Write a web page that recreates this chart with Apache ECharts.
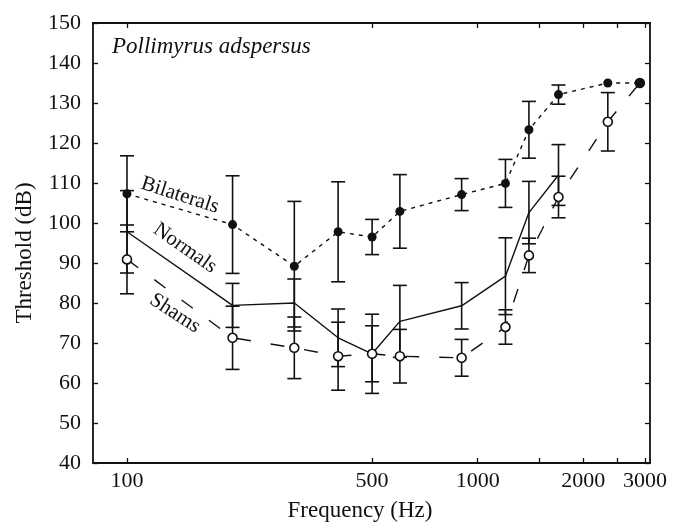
<!DOCTYPE html>
<html><head><meta charset="utf-8">
<script src="https://cdn.jsdelivr.net/npm/echarts@6/dist/echarts.min.js"></script>
<style>html,body{margin:0;padding:0;background:#fff}#c{width:688px;height:523px}</style>
</head><body><div id="c"></div>
<script>
// ---- data ----
const freqs = [100, 200, 300, 400, 500, 600, 900, 1200, 1400, 1700, 2350, 2900];
const normalFreqs = [100, 200, 300, 400, 500, 600, 900, 1200, 1400, 1700];

const bilaterals    = [107.3, 99.6, 89.2, 97.8, 96.5, 102.9, 107.1, 109.9, 123.3, 132.1, 135, 135];
const bilateralsErr = [9.5, 12.2, 16.2, 12.5, 4.4, 9.2, 4.0, 6.0, 7.1, 2.4, 0, 0];

const normals    = [97.8, 79.4, 80.0, 71.3, 67.3, 75.4, 79.3, 86.7, 102.6, 112.0];
const normalsErr = [10.3, 5.5, 6.0, 7.2, 9.9, 9.0, 5.8, 9.6, 7.8, 7.6];

const shams    = [90.9, 71.3, 68.8, 66.7, 67.3, 66.7, 66.3, 74.0, 91.9, 106.5, 125.3, 135];
const shamsErr = [8.6, 7.9, 7.7, 8.5, 7.0, 6.7, 4.6, 4.3, 4.3, 5.2, 7.3, 0];

const xTickValues  = [100, 500, 1000, 1500, 2000, 2500, 3000];
const xLabelValues = [100, 500, 1000, 2000, 3000];

const title = 'Pollimyrus adspersus';
const xName = 'Frequency (Hz)';
const yName = 'Threshold (dB)';
const seriesNames = ['Bilaterals', 'Normals', 'Shams'];

// ---- chart ----
const FONT = '"Liberation Serif","Times New Roman",serif';
const INK = '#111';
const chart = echarts.init(document.getElementById('c'), null, {renderer: 'canvas'});

function pairs(f, v) { return v.map((y, i) => [f[i], y]); }
function errData(f, v, e) { return v.map((y, i) => [f[i], y - e[i], y + e[i]]); }

function errRender(params, api) {
  const x = api.value(0), lo = api.value(1), hi = api.value(2);
  if (hi === lo) return null;
  const p1 = api.coord([x, hi]), p2 = api.coord([x, lo]);
  const w = 7;
  const st = {stroke: INK, lineWidth: 1.6};
  return {type: 'group', children: [
    {type: 'line', shape: {x1: p1[0], y1: p1[1], x2: p2[0], y2: p2[1]}, style: st},
    {type: 'line', shape: {x1: p1[0] - w, y1: p1[1], x2: p1[0] + w, y2: p1[1]}, style: st},
    {type: 'line', shape: {x1: p2[0] - w, y1: p2[1], x2: p2[0] + w, y2: p2[1]}, style: st}
  ]};
}

function errSeries(f, v, e) {
  return {type: 'custom', renderItem: errRender, data: errData(f, v, e),
          encode: {x: 0, y: [1, 2]}, z: 1, silent: true, clip: false};
}

const xAxisBase = {
  type: 'log', logBase: 10, min: 80, max: 3100,
  axisLine: {show: true, onZero: false, lineStyle: {color: INK, width: 1.8}},
  axisTick: {show: true, inside: true, length: 5, customValues: xTickValues, lineStyle: {color: INK, width: 1.3}},
  splitLine: {show: false}, minorTick: {show: false}, minorSplitLine: {show: false}
};
const yAxisBase = {
  type: 'value', min: 40, max: 150, interval: 10,
  axisLine: {show: true, onZero: false, lineStyle: {color: INK, width: 1.8}},
  axisTick: {show: true, inside: true, length: 5, lineStyle: {color: INK, width: 1.3}},
  splitLine: {show: false}
};

chart.setOption({
  animation: false,
  backgroundColor: '#fff',
  grid: {left: 93, right: 38, top: 23, bottom: 60, containLabel: false},
  xAxis: [
    Object.assign({}, xAxisBase, {position: 'bottom',
      axisLabel: {customValues: xLabelValues, formatter: v => String(Math.round(v)),
                  fontFamily: FONT, fontSize: 22, color: INK, margin: 7}}),
    Object.assign({}, xAxisBase, {position: 'top', axisLabel: {show: false}})
  ],
  yAxis: [
    Object.assign({}, yAxisBase, {position: 'left',
      axisLabel: {fontFamily: FONT, fontSize: 22, color: INK, margin: 12}}),
    Object.assign({}, yAxisBase, {position: 'right', axisLabel: {show: false}})
  ],
  series: [
    errSeries(freqs, bilaterals, bilateralsErr),
    errSeries(normalFreqs, normals, normalsErr),
    errSeries(freqs, shams, shamsErr),
    {name: seriesNames[1], type: 'line', data: pairs(normalFreqs, normals), showSymbol: false, symbol: 'none',
     lineStyle: {color: INK, width: 1.4}, z: 2, silent: true},
    {name: seriesNames[2], type: 'line', data: pairs(freqs, shams), symbol: 'circle', symbolSize: 9,
     itemStyle: {color: '#fff', borderColor: INK, borderWidth: 1.6},
     lineStyle: {color: INK, width: 1.4, type: [14, 20]}, z: 3, silent: true},
    {name: seriesNames[0], type: 'line', data: pairs(freqs, bilaterals), symbol: 'circle', symbolSize: 9,
     itemStyle: {color: INK, borderColor: INK, borderWidth: 0},
     lineStyle: {color: INK, width: 1.4, type: [4, 5]}, z: 4, silent: true}
  ]
});

// annotations anchored in data coordinates
const labelSpots = [
  {text: seriesNames[0], at: [141.6, 106.9], angle: -18},
  {text: seriesNames[1], at: [146.3, 93.7], angle: -35},
  {text: seriesNames[2], at: [137, 77.4], angle: -33}
];
const graphics = labelSpots.map(s => {
  const p = chart.convertToPixel({xAxisIndex: 0, yAxisIndex: 0}, s.at);
  return {type: 'text', x: p[0], y: p[1], rotation: s.angle * Math.PI / 180,
          style: {text: s.text, fontFamily: FONT, fontSize: 21, fill: INK, align: 'center', verticalAlign: 'middle'}, z: 10};
});
graphics.push({type: 'text', x: 112, y: 47,
  style: {text: title, fontFamily: FONT, fontStyle: 'italic', fontSize: 23, fill: INK, align: 'left', verticalAlign: 'middle'}, z: 10});
graphics.push({type: 'text', x: 360, y: 511,
  style: {text: xName, fontFamily: FONT, fontSize: 23, fill: INK, align: 'center', verticalAlign: 'middle'}});
graphics.push({type: 'text', x: 25, y: 253, rotation: Math.PI / 2,
  style: {text: yName, fontFamily: FONT, fontSize: 23, fill: INK, align: 'center', verticalAlign: 'middle'}});
chart.setOption({graphic: graphics});
</script>
</body></html>
